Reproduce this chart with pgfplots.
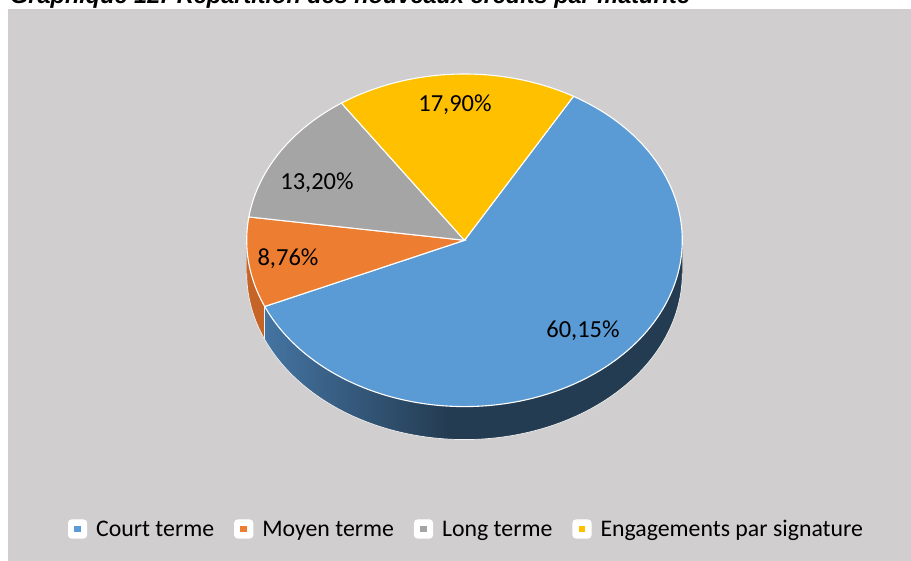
\documentclass[border=0pt]{standalone}
\usepackage{pgfplots}
\pgfplotsset{compat=1.18}
\usepackage{pgfplotstable}
\usepackage{fontspec}
\setmainfont{Carlito}
\newfontfamily\titlefont{Liberation Sans}
\definecolor{bg}{HTML}{D0CECE}
\definecolor{cblue}{HTML}{5B9BD5}
\definecolor{corange}{HTML}{ED7D31}
\definecolor{cgray}{HTML}{A5A5A5}
\definecolor{cyellow}{HTML}{FFC000}
\definecolor{bsl}{RGB}{68,116,162}
\definecolor{bsd}{RGB}{36,60,82}
\definecolor{oside}{RGB}{197,100,38}
\pgfdeclarehorizontalshading{blueside}{100bp}{color(0bp)=(bsl); color(25bp)=(bsl); color(47bp)=(bsd); color(100bp)=(bsd)}

% shares (%) in drawing order
\pgfplotstableread{
pct
60.15
8.76
13.20
17.90
}\piedata

\begin{document}
\begin{tikzpicture}
\pgfplotstablegetelem{0}{pct}\of\piedata \let\pA\pgfplotsretval
\pgfplotstablegetelem{1}{pct}\of\piedata \let\pB\pgfplotsretval
\pgfplotstablegetelem{2}{pct}\of\piedata \let\pC\pgfplotsretval
\pgfplotstablegetelem{3}{pct}\of\piedata \let\pD\pgfplotsretval
\pgfmathsetmacro\aO{60}
\pgfmathsetmacro\aA{\aO-3.6*\pA}
\pgfmathsetmacro\aB{\aA-3.6*\pB}
\pgfmathsetmacro\aC{\aB-3.6*\pC}
\pgfmathsetmacro\aD{\aC-3.6*\pD}
\pgfmathsetmacro\xA{464.5+217.8*cos(\aA)}
\pgfmathsetmacro\yAt{320.7+166.3*sin(\aA)}
\pgfmathsetmacro\yAb{320.7-33+166.3*sin(\aA)}
\useasboundingbox (0,0) rectangle (911pt,561pt);
\clip (0,0) rectangle (911pt,561pt);
\begin{axis}[at={(0,0)}, anchor=south west,
  width=911pt, height=561pt, scale only axis,
  xmin=0, xmax=911, ymin=0, ymax=561,
  hide axis, clip=false,
  legend columns=4,
  legend style={at={(axis cs:68,32)}, anchor=west, draw=none, fill=none,
    inner sep=0pt, outer sep=0pt,
    font=\fontsize{23.8}{28}\selectfont,
    cells={anchor=base west}, nodes={inner sep=0pt},
    /tikz/every odd column/.append style={column sep=9pt},
    /tikz/every even column/.append style={column sep=20pt}},
  legend image code/.code={\fill[white, rounded corners=3pt] (0pt,-1.5pt) rectangle (18pt,16.5pt);
    \fill (5pt,3.5pt) rectangle (13pt,11.5pt);},
]
\fill[bg] (axis cs:8,0) rectangle (axis cs:911,552);

% front side walls
\addplot[forget plot, draw=none, fill=oside, domain=-180:\aA, samples=60, variable=\t]
  ({464.5+217.8*cos(\t)},{287.7+166.3*sin(\t)}) -- (axis cs:\xA,320.7) -- (axis cs:246.7,320.7) -- cycle;
\addplot[forget plot, draw=none, shading=blueside, domain=\aA:0, samples=150, variable=\t]
  ({464.5+217.8*cos(\t)},{287.7+166.3*sin(\t)}) -- (axis cs:682.3,320.7) -- (axis cs:\xA,320.7) -- cycle;
\addplot[forget plot, draw=white!70!bg, line width=0.7pt, domain=-180:0, samples=150, variable=\t]
  ({464.5+217.8*cos(\t)},{287.7+166.3*sin(\t)});
\draw[white!70!bg, line width=0.8pt] (axis cs:\xA,\yAt) -- (axis cs:\xA,\yAb);

% top face
\addplot[fill=cblue, draw=white, line width=1.1pt, domain=\aA:\aO, samples=150, variable=\t]
  ({464.5+217.8*cos(\t)},{320.7+166.3*sin(\t)}) -- (axis cs:464.5,320.7) -- cycle;
\addplot[fill=corange, draw=white, line width=1.1pt, domain=\aB:\aA, samples=40, variable=\t]
  ({464.5+217.8*cos(\t)},{320.7+166.3*sin(\t)}) -- (axis cs:464.5,320.7) -- cycle;
\addplot[fill=cgray, draw=white, line width=1.1pt, domain=\aC:\aB, samples=50, variable=\t]
  ({464.5+217.8*cos(\t)},{320.7+166.3*sin(\t)}) -- (axis cs:464.5,320.7) -- cycle;
\addplot[fill=cyellow, draw=white, line width=1.1pt, domain=\aD:\aC, samples=60, variable=\t]
  ({464.5+217.8*cos(\t)},{320.7+166.3*sin(\t)}) -- (axis cs:464.5,320.7) -- cycle;
\legend{Court terme, Moyen terme, Long terme, Engagements par signature}

% data labels
\begin{scope}[every node/.style={font=\fontsize{24.5}{28}\selectfont, inner sep=0pt}]
\node at (axis cs:583,230) {60,15\%};
\node at (axis cs:288,302) {8,76\%};
\node at (axis cs:317,378) {13,20\%};
\node at (axis cs:455,456) {17,90\%};
\end{scope}

\node[anchor=base west, inner sep=0pt, font=\titlefont\bfseries\itshape\fontsize{23.5}{28}\selectfont]
  at (axis cs:10,557) {Graphique 12: Répartition des nouveaux crédits par maturité};
\end{axis}
\end{tikzpicture}
\end{document}
